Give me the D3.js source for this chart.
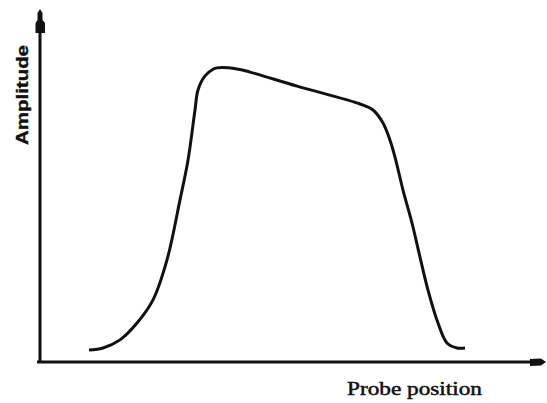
<!DOCTYPE html>
<html>
<head>
<meta charset="utf-8">
<script src="https://cdn.jsdelivr.net/npm/d3@7"></script>
<style>
  html, body { margin: 0; padding: 0; background: #fff; }
  svg { display: block; }
</style>
</head>
<body>
<svg id="chart" width="547" height="403"></svg>
<script>
// Probe position (arbitrary units) and amplitude (arbitrary units)
const probePosition = [0.98, 1.26, 1.60, 1.94, 2.26, 2.54, 2.80, 2.96, 3.10, 3.16, 3.30, 3.46, 3.54, 3.94, 4.20, 5.14, 6.40, 6.66, 6.86, 7.00, 7.10, 7.26, 7.44, 7.60, 7.76, 7.96, 8.14, 8.34, 8.50];
const amplitude     = [0.34, 0.40, 0.63, 1.11, 1.77, 2.91, 4.62, 5.75, 7.18, 7.75, 8.15, 8.34, 8.38, 8.35, 8.26, 7.86, 7.35, 7.18, 6.81, 6.32, 5.84, 4.90, 3.96, 2.99, 2.05, 1.11, 0.54, 0.40, 0.40];
const xLabel = "Probe position";
const yLabel = "Amplitude";

const svg = d3.select("#chart");
const x = d3.scaleLinear().domain([0, 10]).range([40, 540]);
const y = d3.scaleLinear().domain([0, 10]).range([362, 11]);

const data = probePosition.map((p, i) => ({ p, a: amplitude[i] }));

// Axes
svg.append("line")
  .attr("x1", x(0)).attr("y1", y(0) + 1)
  .attr("x2", x(0)).attr("y2", 24)
  .attr("stroke", "#111").attr("stroke-width", 3);
svg.append("line")
  .attr("x1", x(0) - 3).attr("y1", y(0))
  .attr("x2", 534).attr("y2", y(0))
  .attr("stroke", "#111").attr("stroke-width", 3);

// Arrow heads
svg.append("path")
  .attr("d", "M40,9 L42.5,13 L42.5,20 L45,23 L45,33 L35.5,33 L35.5,23 L37.5,20 L37.5,13 Z")
  .attr("fill", "#111");
svg.append("path")
  .attr("d", "M546,362 L541,358.5 L530,359 L530,366 L541,365.5 Z")
  .attr("fill", "#111");

// Curve
const line = d3.line()
  .x(d => x(d.p))
  .y(d => y(d.a))
  .curve(d3.curveCatmullRom.alpha(0.5));

svg.append("path")
  .datum(data)
  .attr("d", line)
  .attr("fill", "none")
  .attr("stroke", "#111")
  .attr("stroke-width", 3)
  .attr("stroke-linecap", "butt")
  .attr("stroke-linejoin", "round");

// Labels
svg.append("text")
  .attr("transform", "translate(28,95) rotate(-90)")
  .attr("text-anchor", "middle")
  .attr("font-family", "Liberation Sans, Arial, sans-serif")
  .attr("font-weight", "bold")
  .attr("font-size", 16)
  .attr("textLength", 100)
  .attr("lengthAdjust", "spacingAndGlyphs")
  .attr("fill", "#111")
  .attr("stroke", "#111")
  .attr("stroke-width", 0.4)
  .text(yLabel);

svg.append("text")
  .attr("x", 347)
  .attr("y", 395)
  .attr("font-family", "Liberation Serif, Times New Roman, serif")
  .attr("font-size", 19)
  .attr("textLength", 135)
  .attr("lengthAdjust", "spacingAndGlyphs")
  .attr("fill", "#111")
  .attr("stroke", "#111")
  .attr("stroke-width", 0.5)
  .text(xLabel);
</script>
</body>
</html>
